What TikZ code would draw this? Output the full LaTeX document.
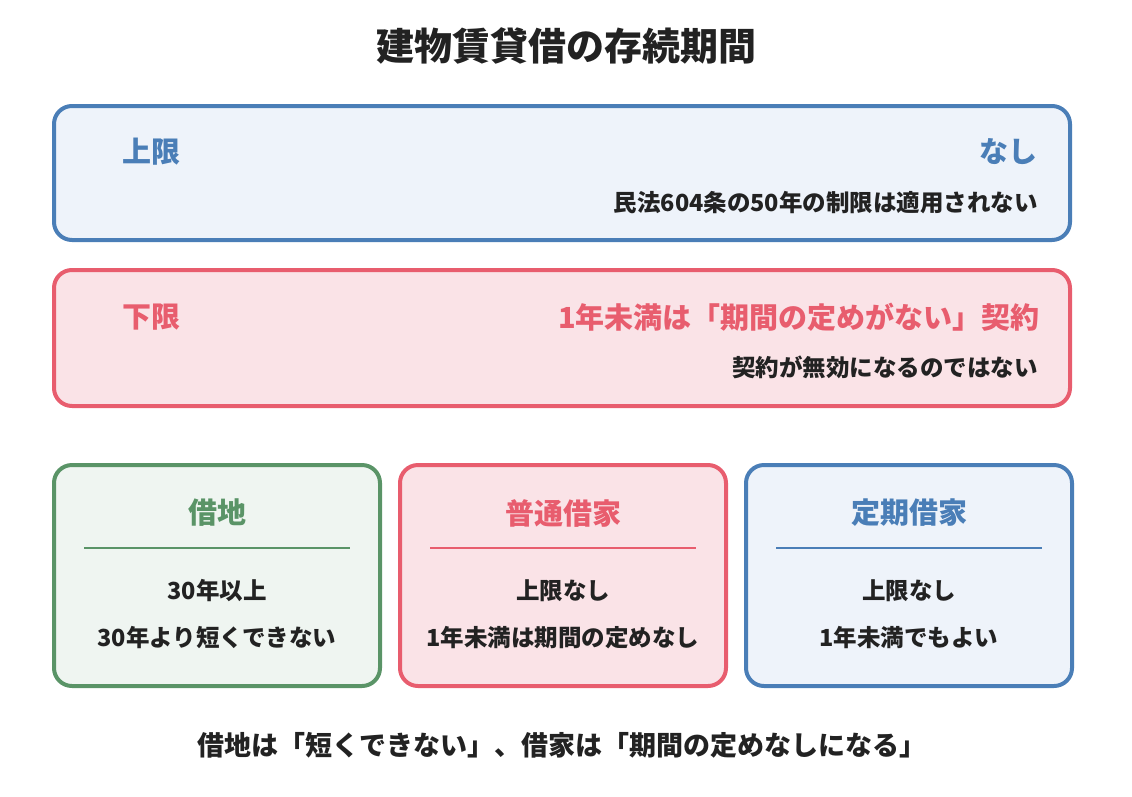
\documentclass[tikz,border=0pt]{standalone}
\usepackage{fontspec}
\setmainfont{Noto Sans CJK JP}
\definecolor{bluestroke}{HTML}{4A7EB7}
\definecolor{bluefill}{HTML}{EEF3FA}
\definecolor{redstroke}{HTML}{E85D6E}
\definecolor{redfill}{HTML}{FAE3E7}
\definecolor{greenstroke}{HTML}{5A9467}
\definecolor{greenfill}{HTML}{EFF5F1}
\definecolor{ink}{HTML}{222222}
\tikzset{
  panel/.style={draw=#1stroke, fill=#1fill, line width=4pt, rounded corners=18pt, inner sep=0pt},
  head/.style={text=#1stroke, font=\fontsize{29}{33}\selectfont\bfseries, inner sep=0pt},
  body/.style={text=ink, font=\fontsize{23.5}{27}\selectfont\bfseries, inner sep=0pt},
  rule/.style={draw=#1stroke, line width=2.5pt}
}
\begin{document}
\begin{tikzpicture}[x=1pt,y=-1pt]
\useasboundingbox (0,0) rectangle (1132,796);
\node[text=ink, font=\fontsize{38}{42}\selectfont\bfseries, inner sep=0pt] (title) at (566,46) {建物賃貸借の存続期間};

\node[panel=blue, minimum width=1016pt, minimum height=134pt] (upper) at (562,173) {};
\node[head=blue, anchor=west] (upperL) at (122,152) {上限};
\node[head=blue, anchor=east] (upperR) at (1038,152) {なし};
\node[body, anchor=east] (upperN) at (1038,203) {民法604条の50年の制限は適用されない};

\node[panel=red, minimum width=1016pt, minimum height=136pt] (lower) at (562,338) {};
\node[head=red, anchor=west] (lowerL) at (122,317) {下限};
\node[head=red, anchor=east] (lowerR) at (1040,317) {1年未満は「期間の定めがない」契約};
\node[body, anchor=east] (lowerN) at (1038,367) {契約が無効になるのではない};

\node[panel=green, minimum width=326pt, minimum height=221pt] (land) at (217,575.5) {};
\node[head=green] (landT) at (217,513) {借地};
\draw[rule=green] (84,548) coordinate (landA) -- (350,548) coordinate (landB);
\node[body] (land1) at (217,591) {30年以上};
\node[body] (land2) at (217,638) {30年より短くできない};

\node[panel=red, minimum width=326pt, minimum height=221pt] (ord) at (563,575.5) {};
\node[head=red] (ordT) at (563,513) {普通借家};
\draw[rule=red] (430,548) coordinate (ordA) -- (696,548) coordinate (ordB);
\node[body] (ord1) at (563,591) {上限なし};
\node[body] (ord2) at (563,638) {1年未満は期間の定めなし};

\node[panel=blue, minimum width=326pt, minimum height=221pt] (fix) at (909,575.5) {};
\node[head=blue] (fixT) at (909,513) {定期借家};
\draw[rule=blue] (776,548) coordinate (fixA) -- (1042,548) coordinate (fixB);
\node[body] (fix1) at (909,591) {上限なし};
\node[body] (fix2) at (909,638) {1年未満でもよい};

\node[text=ink, font=\fontsize{27}{31}\selectfont\bfseries, inner sep=0pt] (caption) at (562,745) {借地は「短くできない」、借家は「期間の定めなしになる」};
\end{tikzpicture}
\end{document}
